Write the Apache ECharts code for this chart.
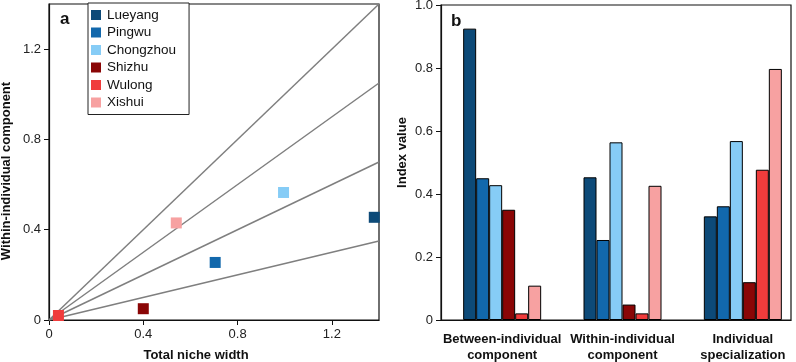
<!DOCTYPE html>
<html>
<head>
<meta charset="utf-8">
<script src="https://cdn.jsdelivr.net/npm/echarts@6/dist/echarts.min.js"></script>
<style>
  html, body { margin: 0; padding: 0; background: #fff; }
  #chart { width: 796px; height: 362px; }
</style>
</head>
<body>
<div id="chart"></div>
<script>
// sites and colours
const sites = ['Lueyang', 'Pingwu', 'Chongzhou', 'Shizhu', 'Wulong', 'Xishui']
const colors = ['#0d4a78', '#1268ac', '#86ccf6', '#8a0606', '#f03c3c', '#f7a1a1']

// panel a: total niche width vs within-individual component
const totalWidth = [1.38, 0.705, 0.995, 0.40, 0.04, 0.54]
const withinComp = [0.455, 0.255, 0.565, 0.05, 0.02, 0.43]
// reference lines through origin (WIC/TNW ratios)
const ratioLines = [1, 0.75, 0.5, 0.25]

// panel b: index values by component
const indexCats = ['Between-individual\ncomponent', 'Within-individual\ncomponent', 'Individual\nspecialization']
const betweenVals = [0.925, 0.45, 0.428, 0.35, 0.021, 0.109]
const withinVals = [0.453, 0.254, 0.564, 0.049, 0.021, 0.426]
const specVals = [0.329, 0.361, 0.568, 0.12, 0.477, 0.797]

const xTicksA = [0, 0.4, 0.8, 1.2]
const yTicksA = [0, 0.4, 0.8, 1.2]
const xMaxA = 1.4

var myChart = echarts.init(document.getElementById('chart'))

const font = 'Liberation Sans, Arial, sans-serif'
const tickLabel = { color: '#222', fontSize: 13, fontFamily: font }
const nameStyle = { color: '#111', fontSize: 13, fontWeight: 'bold', fontFamily: font }

const lineSeries = ratioLines.map(r => {
  return {
    type: 'line',
    xAxisIndex: 0,
    yAxisIndex: 0,
    data: [[0, 0], [xMaxA, r * xMaxA]],
    symbol: 'none',
    silent: true,
    lineStyle: { color: '#7f7f7f', width: 1.5 },
    z: 2
  }
})

const scatterSeries = sites.map((s, i) => {
  return {
    name: s,
    type: 'scatter',
    xAxisIndex: 0,
    yAxisIndex: 0,
    symbol: 'rect',
    symbolSize: 11,
    data: [[totalWidth[i], withinComp[i]]],
    itemStyle: { color: colors[i], opacity: 1 },
    z: 5
  }
})

const barSeries = sites.map((s, i) => {
  return {
    name: s,
    type: 'bar',
    xAxisIndex: 1,
    yAxisIndex: 1,
    data: [betweenVals[i], withinVals[i], specVals[i]],
    barWidth: 13,
    barGap: 0,
    itemStyle: { color: colors[i], borderColor: '#000', borderWidth: 1 }
  }
})

let option = {
  animation: false,
  backgroundColor: '#fff',
  textStyle: { fontFamily: font },
  title: [
    { text: 'a', left: 55, top: 6, textStyle: { fontSize: 17, fontWeight: 'bold', color: '#111', fontFamily: font } },
    { text: 'b', left: 446, top: 8, textStyle: { fontSize: 17, fontWeight: 'bold', color: '#111', fontFamily: font } }
  ],
  legend: {
    data: sites,
    orient: 'vertical',
    left: 88,
    top: 3,
    padding: [5, 13, 5, 3],
    itemGap: 3.5,
    itemWidth: 10,
    itemHeight: 10,
    icon: 'rect',
    borderColor: '#222',
    borderWidth: 1,
    backgroundColor: '#fff',
    selectedMode: false,
    itemStyle: { borderWidth: 0 },
    textStyle: { color: '#111', fontSize: 13.5, fontFamily: font, padding: [0, 0, 0, 1] },
    z: 10
  },
  grid: [
    { left: 49, right: 417, top: 4, bottom: 42, show: true, borderColor: '#111', borderWidth: 1.2, outerBoundsMode: 'none' },
    // bars, laid out on their own band spacing
    { left: 442, width: 361, top: 5, bottom: 42, outerBoundsMode: 'none' },
    // frame of panel b
    { left: 441, right: 5, top: 5, bottom: 42, show: true, borderColor: '#111', borderWidth: 1.2, outerBoundsMode: 'none' }
  ],
  xAxis: [
    {
      gridIndex: 0,
      type: 'value',
      min: 0,
      max: xMaxA,
      interval: 0.4,
      name: 'Total niche width',
      nameLocation: 'middle',
      nameGap: 29,
      nameTextStyle: Object.assign({}, nameStyle, { padding: [0, 36, 0, 0] }),
      axisLine: { show: true, lineStyle: { color: '#111', width: 1.2 } },
      axisTick: { show: true, inside: false, length: 5, customValues: xTicksA, lineStyle: { color: '#111' } },
      axisLabel: Object.assign({}, tickLabel, { customValues: xTicksA, margin: 8 }),
      splitLine: { show: false }
    },
    {
      gridIndex: 1,
      type: 'category',
      data: indexCats,
      axisLine: { show: false },
      axisTick: { show: false },
      axisLabel: { color: '#111', fontSize: 13, fontWeight: 'bold', fontFamily: font, lineHeight: 16, margin: 11, interval: 0 }
    },
    {
      gridIndex: 2,
      type: 'value',
      min: 0,
      max: 1,
      axisLine: { show: true, lineStyle: { color: '#111', width: 1.2 } },
      axisTick: { show: false },
      axisLabel: { show: false },
      splitLine: { show: false }
    }
  ],
  yAxis: [
    {
      gridIndex: 0,
      type: 'value',
      min: 0,
      max: xMaxA,
      interval: 0.4,
      name: 'Within-individual component',
      nameLocation: 'middle',
      nameGap: 36,
      nameTextStyle: Object.assign({}, nameStyle, { padding: [0, 18, 0, 0] }),
      axisLine: { show: true, lineStyle: { color: '#111', width: 1.2 } },
      axisTick: { show: true, inside: false, length: 5, customValues: yTicksA, lineStyle: { color: '#111' } },
      axisLabel: Object.assign({}, tickLabel, { customValues: yTicksA, margin: 8 }),
      splitLine: { show: false }
    },
    {
      gridIndex: 1,
      type: 'value',
      min: 0,
      max: 1,
      show: false
    },
    {
      gridIndex: 2,
      type: 'value',
      min: 0,
      max: 1,
      interval: 0.2,
      name: 'Index value',
      nameLocation: 'middle',
      nameGap: 32,
      nameTextStyle: Object.assign({}, nameStyle, { padding: [0, 0, 0, 20] }),
      axisLine: { show: true, lineStyle: { color: '#111', width: 1.2 } },
      axisTick: { show: true, inside: false, length: 5, lineStyle: { color: '#111' } },
      axisLabel: Object.assign({}, tickLabel, {
        margin: 8,
        formatter: v => (v === 0 ? '0' : v.toFixed(1))
      }),
      splitLine: { show: false }
    }
  ],
  series: [...lineSeries, ...scatterSeries, ...barSeries]
}

myChart.setOption(option)
</script>
</body>
</html>
